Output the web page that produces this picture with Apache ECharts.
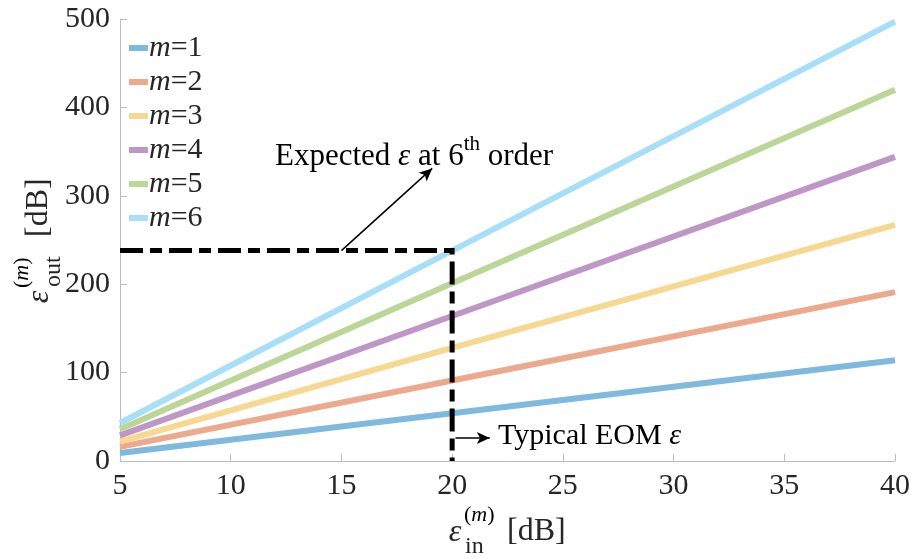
<!DOCTYPE html>
<html>
<head>
<meta charset="utf-8">
<script src="https://cdn.jsdelivr.net/npm/echarts@6/dist/echarts.min.js"></script>
<style>
    html, body {margin: 0; padding: 0; background: #fff;}
    #main {width: 916px; height: 558px;}
</style>
</head>
<body>
<div id="main"></div>
<script>
// input epsilon (dB) at which the lines were read
var epsIn = [5, 20, 40];
var names = ['m=1', 'm=2', 'm=3', 'm=4', 'm=5', 'm=6'];
var out1 = [9, 54, 114];
var out2 = [16, 91, 191];
var out3 = [22, 128, 267];
var out4 = [29, 164, 344];
var out5 = [36, 201, 420];
var out6 = [43, 238, 497];
// dash-dot guide: 6th order at 20 dB input
var guideX = [5, 20, 20];
var guideY = [238, 238, 0];
var xTicks = {min: 5, max: 40, step: 5};
var yTicks = {min: 0, max: 500, step: 100};

var colors = ['#80b9de', '#eca98c', '#f6d890', '#be97c6', '#bbd697', '#a6dff7'];
var serif = 'Liberation Serif';
var ink = '#262626';

function pairs(xs, ys) {
    return xs.map(function (x, i) { return [x, ys[i]]; });
}

// epsilon with super/subscript, built from pieces
function mathLabel(x, y, rot, sub, o) {
    return {
        type: 'group', x: x, y: y, rotation: rot,
        children: [
            {type: 'text', x: 0, y: 0, style: {text: 'ε', font: 'italic 32px ' + serif, fill: ink, align: 'center', verticalAlign: 'middle'}},
            {type: 'text', x: 9, y: -18, style: {
                text: '{p|(}{i|m}{p|)}', align: 'left', verticalAlign: 'middle',
                rich: {p: {fontSize: 22, fontFamily: serif, color: ink}, i: {fontSize: 22, fontFamily: serif, fontStyle: 'italic', color: ink}}
            }},
            {type: 'text', x: 10, y: 14, style: {text: sub, font: '24px ' + serif, fill: ink, align: 'left', verticalAlign: 'middle'}},
            {type: 'text', x: o, y: -1, style: {text: '[dB]', font: '32px ' + serif, fill: ink, align: 'left', verticalAlign: 'middle'}}
        ]
    };
}

var series = [out1, out2, out3, out4, out5, out6].map(function (ys, i) {
    return {
        name: names[i],
        type: 'line',
        data: pairs(epsIn, ys),
        symbol: 'none',
        lineStyle: {width: 6, color: colors[i], cap: 'butt'},
        itemStyle: {color: colors[i]},
        z: 2 + i
    };
});

series.push({
    name: 'guide',
    type: 'line',
    data: pairs(guideX, guideY),
    symbol: 'none',
    lineStyle: {width: 5, color: '#000', type: [23, 7, 12, 7], cap: 'butt', join: 'miter'},
    z: 10,
    markLine: {
        silent: true,
        symbol: ['none', 'arrow'],
        symbolSize: [9, 13],
        label: {show: false},
        lineStyle: {color: '#000', width: 1.5, type: 'solid'},
        data: [
            [{coord: [15, 238]}, {coord: [19.1, 331]}],
            [{coord: [20.15, 26]}, {coord: [21.7, 26]}]
        ]
    }
});

var myChart = echarts.init(document.getElementById('main'));
var option = {
    animation: false,
    color: colors,
    grid: {left: 120, right: 21, top: 19, bottom: 97},
    legend: {
        data: names,
        orient: 'vertical',
        left: 124,
        top: 28,
        itemWidth: 19,
        itemHeight: 6,
        itemGap: 4,
        icon: 'rect',
        formatter: function (n) { return '{i|m}{n|=' + n.slice(2) + '}'; },
        textStyle: {
            padding: [0, 0, 0, -4],
            rich: {
                i: {fontSize: 30, fontFamily: serif, fontStyle: 'italic', color: ink, lineHeight: 31},
                n: {fontSize: 30, fontFamily: serif, color: ink, lineHeight: 31}
            }
        }
    },
    xAxis: {
        type: 'value',
        min: xTicks.min, max: xTicks.max, interval: xTicks.step,
        axisLine: {lineStyle: {color: '#bdbdbd', width: 1}},
        axisTick: {inside: true, length: 7, lineStyle: {color: '#bdbdbd'}},
        splitLine: {show: false},
        axisLabel: {fontSize: 30, fontFamily: serif, color: ink, margin: 10}
    },
    yAxis: {
        type: 'value',
        min: yTicks.min, max: yTicks.max, interval: yTicks.step,
        axisLine: {show: true, lineStyle: {color: '#bdbdbd', width: 1}},
        axisTick: {show: true, inside: true, length: 7, lineStyle: {color: '#bdbdbd'}},
        splitLine: {show: false},
        axisLabel: {fontSize: 30, fontFamily: serif, color: ink, margin: 10}
    },
    graphic: [
        mathLabel(455, 533, 0, 'in', 52),
        mathLabel(40, 297, Math.PI / 2, 'out', 60),
        {
            type: 'text', left: 275, top: 134,
            style: {
                text: '{a|Expected }{e|ε}{a| at 6}{s|th}{a| order}',
                rich: {
                    a: {fontSize: 31, fontFamily: serif, color: ink, lineHeight: 38, verticalAlign: 'bottom'},
                    e: {fontSize: 31, fontFamily: serif, fontStyle: 'italic', color: ink, lineHeight: 38, verticalAlign: 'bottom'},
                    s: {fontSize: 21, fontFamily: serif, color: ink, lineHeight: 38, verticalAlign: 'top'}
                }
            }
        },
        {
            type: 'text', left: 498, top: 421,
            style: {
                text: '{a|Typical EOM }{e|ε}',
                rich: {
                    a: {fontSize: 30, fontFamily: serif, color: ink},
                    e: {fontSize: 30, fontFamily: serif, fontStyle: 'italic', color: ink}
                }
            }
        }
    ],
    series: series
};
myChart.setOption(option);
</script>
</body>
</html>
